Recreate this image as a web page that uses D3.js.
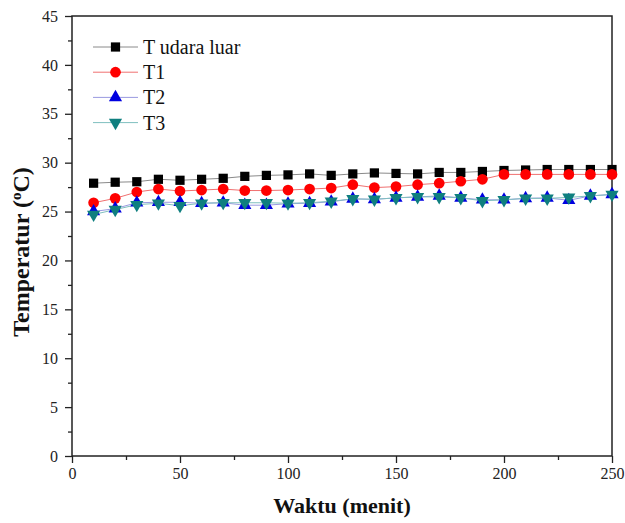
<!DOCTYPE html>
<html>
<head>
<meta charset="utf-8">
<script src="https://cdn.jsdelivr.net/npm/d3@7"></script>
<style>
  body { margin: 0; background: #fff; }
  text { font-family: "Liberation Serif", "Times New Roman", serif; }
</style>
</head>
<body>
<svg width="625" height="523"></svg>
<script>
// data
const waktu = [10, 20, 30, 40, 50, 60, 70, 80, 90, 100, 110, 120, 130, 140, 150, 160, 170, 180, 190, 200, 210, 220, 230, 240, 250];
const tUdaraLuar = [27.9, 28.0, 28.05, 28.3, 28.2, 28.3, 28.4, 28.6, 28.7, 28.75, 28.85, 28.7, 28.85, 28.95, 28.9, 28.85, 29.0, 29.0, 29.1, 29.2, 29.25, 29.3, 29.3, 29.3, 29.3];
const t1 = [25.9, 26.35, 27.0, 27.3, 27.1, 27.2, 27.3, 27.15, 27.15, 27.2, 27.3, 27.4, 27.75, 27.45, 27.55, 27.75, 27.9, 28.1, 28.3, 28.8, 28.8, 28.8, 28.8, 28.8, 28.8];
const t2 = [25.0, 25.3, 25.9, 25.95, 25.95, 25.85, 25.9, 25.65, 25.65, 25.8, 25.85, 26.0, 26.3, 26.25, 26.4, 26.5, 26.6, 26.4, 26.2, 26.2, 26.35, 26.4, 26.15, 26.6, 26.75];
const t3 = [24.7, 25.2, 25.7, 25.85, 25.6, 25.85, 25.9, 25.9, 25.9, 25.85, 25.9, 26.05, 26.3, 26.25, 26.4, 26.5, 26.5, 26.4, 26.1, 26.2, 26.35, 26.35, 26.45, 26.6, 26.75];
const seriesNames = ["T udara luar", "T1", "T2", "T3"];
const xTicks = [0, 50, 100, 150, 200, 250];
const yTicks = [0, 5, 10, 15, 20, 25, 30, 35, 40, 45];

const series = [
  { name: seriesNames[0], values: tUdaraLuar, fill: "#000000", line: "#8a8a8a", symbol: d3.symbolSquare, size: 85, rot: 0 },
  { name: seriesNames[1], values: t1, fill: "#ff0000", line: "#f07070", symbol: d3.symbolCircle, size: 90, rot: 0 },
  { name: seriesNames[2], values: t2, fill: "#0000e0", line: "#9a9ae0", symbol: d3.symbolTriangle, size: 75, rot: 0 },
  { name: seriesNames[3], values: t3, fill: "#0f7f7f", line: "#7fbfbf", symbol: d3.symbolTriangle, size: 75, rot: 180 }
];

const margin = { top: 16, right: 13, bottom: 67, left: 72 };
const width = 625 - margin.left - margin.right;
const height = 523 - margin.top - margin.bottom;

const svg = d3.select("svg");
const chart = svg.append("g")
  .attr("transform", `translate(${margin.left}, ${margin.top})`);

const x = d3.scaleLinear().domain([0, 250]).range([0, width]);
const y = d3.scaleLinear().domain([0, 45]).range([height, 0]);

// minor ticks
chart.append("g")
  .attr("transform", `translate(0, ${height})`)
  .call(d3.axisBottom(x).tickValues(d3.range(25, 250, 50)).tickSize(4).tickFormat(""))
  .call(g => g.select(".domain").remove());
chart.append("g")
  .call(d3.axisLeft(y).tickValues(d3.range(2.5, 45, 5)).tickSize(4).tickFormat(""))
  .call(g => g.select(".domain").remove());

// major ticks
chart.append("g")
  .attr("transform", `translate(0, ${height})`)
  .call(d3.axisBottom(x).tickValues(xTicks).tickSize(7).tickPadding(5));
chart.append("g")
  .call(d3.axisLeft(y).tickValues(yTicks).tickSize(7).tickPadding(7));

chart.selectAll(".tick line").attr("stroke", "#222").attr("stroke-width", 1.3);
chart.selectAll(".domain").remove();
chart.selectAll(".tick text")
  .attr("font-family", "Liberation Serif")
  .attr("font-size", 16)
  .attr("fill", "#222");

// frame
chart.append("rect")
  .attr("x", 0).attr("y", 0)
  .attr("width", width).attr("height", height)
  .attr("fill", "none")
  .attr("stroke", "#222")
  .attr("stroke-width", 1.5);

// lines
const line = d3.line()
  .x((d, i) => x(waktu[i]))
  .y(d => y(d));

series.forEach(s => {
  chart.append("path")
    .datum(s.values)
    .attr("fill", "none")
    .attr("stroke", s.line)
    .attr("stroke-width", 1)
    .attr("d", line);
});

series.forEach(s => {
  chart.selectAll(null)
    .data(s.values)
    .enter()
    .append("path")
    .attr("d", d3.symbol().type(s.symbol).size(s.size))
    .attr("transform", (d, i) => `translate(${x(waktu[i])}, ${y(d)}) rotate(${s.rot})`)
    .attr("fill", s.fill);
});

// legend
const legend = chart.append("g").attr("transform", "translate(21, 31)");
series.forEach((s, i) => {
  const row = legend.append("g").attr("transform", `translate(0, ${i * 25.2})`);
  row.append("line")
    .attr("x1", 0).attr("x2", 45)
    .attr("stroke", s.line).attr("stroke-width", 1);
  row.append("path")
    .attr("d", d3.symbol().type(s.symbol).size(s.size))
    .attr("transform", `translate(22.5, 0) rotate(${s.rot})`)
    .attr("fill", s.fill);
  row.append("text")
    .attr("x", 50)
    .attr("y", 7)
    .attr("font-size", 20)
    .attr("fill", "#111")
    .text(s.name);
});

// axis labels
chart.append("text")
  .attr("text-anchor", "middle")
  .attr("x", width / 2)
  .attr("y", height + 57)
  .attr("font-size", 22)
  .attr("font-weight", "bold")
  .attr("fill", "#111")
  .text("Waktu (menit)");

const yLabel = chart.append("text")
  .attr("text-anchor", "middle")
  .attr("transform", `translate(-43, ${height / 2 + 16}) rotate(-90)`)
  .attr("font-size", 24)
  .attr("font-weight", "bold")
  .attr("fill", "#111");
yLabel.append("tspan").text("Temperatur (");
yLabel.append("tspan").attr("baseline-shift", "super").attr("font-size", 15).text("o");
yLabel.append("tspan").text("C)");
</script>
</body>
</html>
